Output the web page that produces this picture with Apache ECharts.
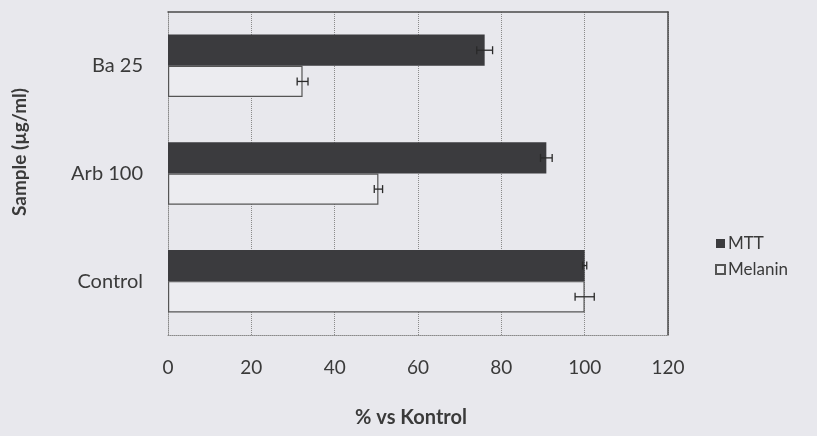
<!DOCTYPE html>
<html>
<head>
<meta charset="utf-8">
<script src="https://cdn.jsdelivr.net/npm/echarts@6/dist/echarts.min.js"></script>
<style>
html,body{margin:0;padding:0;background:#e8e8ed;}
#chart{width:817px;height:436px;}
</style>
</head>
<body>
<div id="chart"></div>
<script>
const categories = ['Control', 'Arb 100', 'Ba 25'];
const mttValues = [100, 90.8, 76];
const mttErrors = [0.5, 1.4, 1.9];
const melaninValues = [100, 50.5, 32.3];
const melaninErrors = [2.3, 1.0, 1.3];
const xTicks = [0, 20, 40, 60, 80, 100, 120];

const textColor = '#3a3a3a';
const font = 'Lato, "Open Sans", sans-serif';
const barPct = 0.29;

function errData(vals, errs) {
  return vals.map((v, i) => [i, v, errs[i]]);
}

function makeErrRender(side) {
  return function (params, api) {
    const idx = api.value(0);
    const v = api.value(1);
    const e = api.value(2);
    const band = api.size([0, 1])[1];
    const bw = band * barPct;
    const off = side * bw / 2;
    const lo = api.coord([v - e, idx]);
    const hi = api.coord([v + e, idx]);
    const y = lo[1] + off;
    const cap = 4;
    const style = { stroke: '#2a2a2a', lineWidth: 1.3 };
    return {
      type: 'group',
      children: [
        { type: 'line', shape: { x1: lo[0], y1: y, x2: hi[0], y2: y }, style: style },
        { type: 'line', shape: { x1: lo[0], y1: y - cap, x2: lo[0], y2: y + cap }, style: style },
        { type: 'line', shape: { x1: hi[0], y1: y - cap, x2: hi[0], y2: y + cap }, style: style }
      ]
    };
  };
}

const chart = echarts.init(document.getElementById('chart'));
chart.setOption({
  backgroundColor: '#e8e8ed',
  animation: false,
  textStyle: { fontFamily: font },
  grid: { left: 168, right: 149, top: 12, bottom: 101 },
  legend: {
    data: [
      { name: 'MTT', icon: 'rect' },
      { name: 'Melanin', icon: 'rect' }
    ],
    orient: 'vertical',
    left: 710,
    top: 230,
    itemWidth: 9,
    itemHeight: 9,
    itemGap: 9,
    textStyle: { fontSize: 17, color: textColor, fontFamily: font, padding: [0, 0, 0, -2] }
  },
  xAxis: [
    {
      type: 'value',
      min: 0, max: 120, interval: 20,
      position: 'bottom',
      axisLine: { show: true, onZero: false, lineStyle: { color: '#8a8a8a', type: 'dotted', width: 1 } },
      axisTick: { show: false },
      axisLabel: {
        margin: 23, fontSize: 19, color: textColor, fontFamily: font,
        formatter: v => xTicks.indexOf(v) >= 0 ? String(v) : ''
      },
      splitLine: { show: true, lineStyle: { color: '#8a8a8a', type: 'dotted', width: 1 } },
      name: '% vs Kontrol',
      nameLocation: 'middle',
      nameGap: 73,
      nameTextStyle: { fontSize: 20, fontWeight: 'bold', color: textColor, fontFamily: font, padding: [0, 14, 0, 0] }
    },
    {
      type: 'value',
      min: 0, max: 120, interval: 20,
      position: 'top',
      axisLine: { show: true, onZero: false, lineStyle: { color: '#4a4a4a', width: 1.5 } },
      axisTick: { show: false },
      axisLabel: { show: false },
      splitLine: { show: false }
    }
  ],
  yAxis: [
    {
      type: 'category',
      data: categories,
      position: 'left',
      axisLine: { show: true, onZero: false, lineStyle: { color: '#8a8a8a', type: 'dotted', width: 1 } },
      axisTick: { show: false },
      axisLabel: { margin: 25, fontSize: 20, color: textColor, fontFamily: font }
    },
    {
      type: 'category',
      data: categories,
      position: 'right',
      axisLine: { show: true, onZero: false, lineStyle: { color: '#4a4a4a', width: 1.5 } },
      axisTick: { show: false },
      axisLabel: { show: false }
    }
  ],
  graphic: [
    {
      type: 'text',
      x: 20, y: 152,
      rotation: Math.PI / 2,
      style: {
        text: 'Sample (µg/ml)',
        fill: textColor,
        font: 'bold 19px ' + font,
        textAlign: 'center',
        textVerticalAlign: 'middle'
      }
    }
  ],
  series: [
    {
      name: 'MTT',
      type: 'bar',
      data: mttValues,
      barWidth: (barPct * 100) + '%',
      barGap: '0%',
      itemStyle: { color: '#3b3b3e', borderColor: '#3b3b3e', borderWidth: 0 },
      z: 3
    },
    {
      name: 'Melanin',
      type: 'bar',
      data: melaninValues,
      barWidth: (barPct * 100) + '%',
      barGap: '0%',
      itemStyle: { color: '#ececf0', borderColor: '#555555', borderWidth: 1.2 },
      z: 2
    },
    {
      name: 'MTT err',
      type: 'custom',
      renderItem: makeErrRender(-1),
      data: errData(mttValues, mttErrors),
      encode: { x: 1, y: 0 },
      z: 5
    },
    {
      name: 'Melanin err',
      type: 'custom',
      renderItem: makeErrRender(1),
      data: errData(melaninValues, melaninErrors),
      encode: { x: 1, y: 0 },
      z: 5
    }
  ]
});
</script>
</body>
</html>
